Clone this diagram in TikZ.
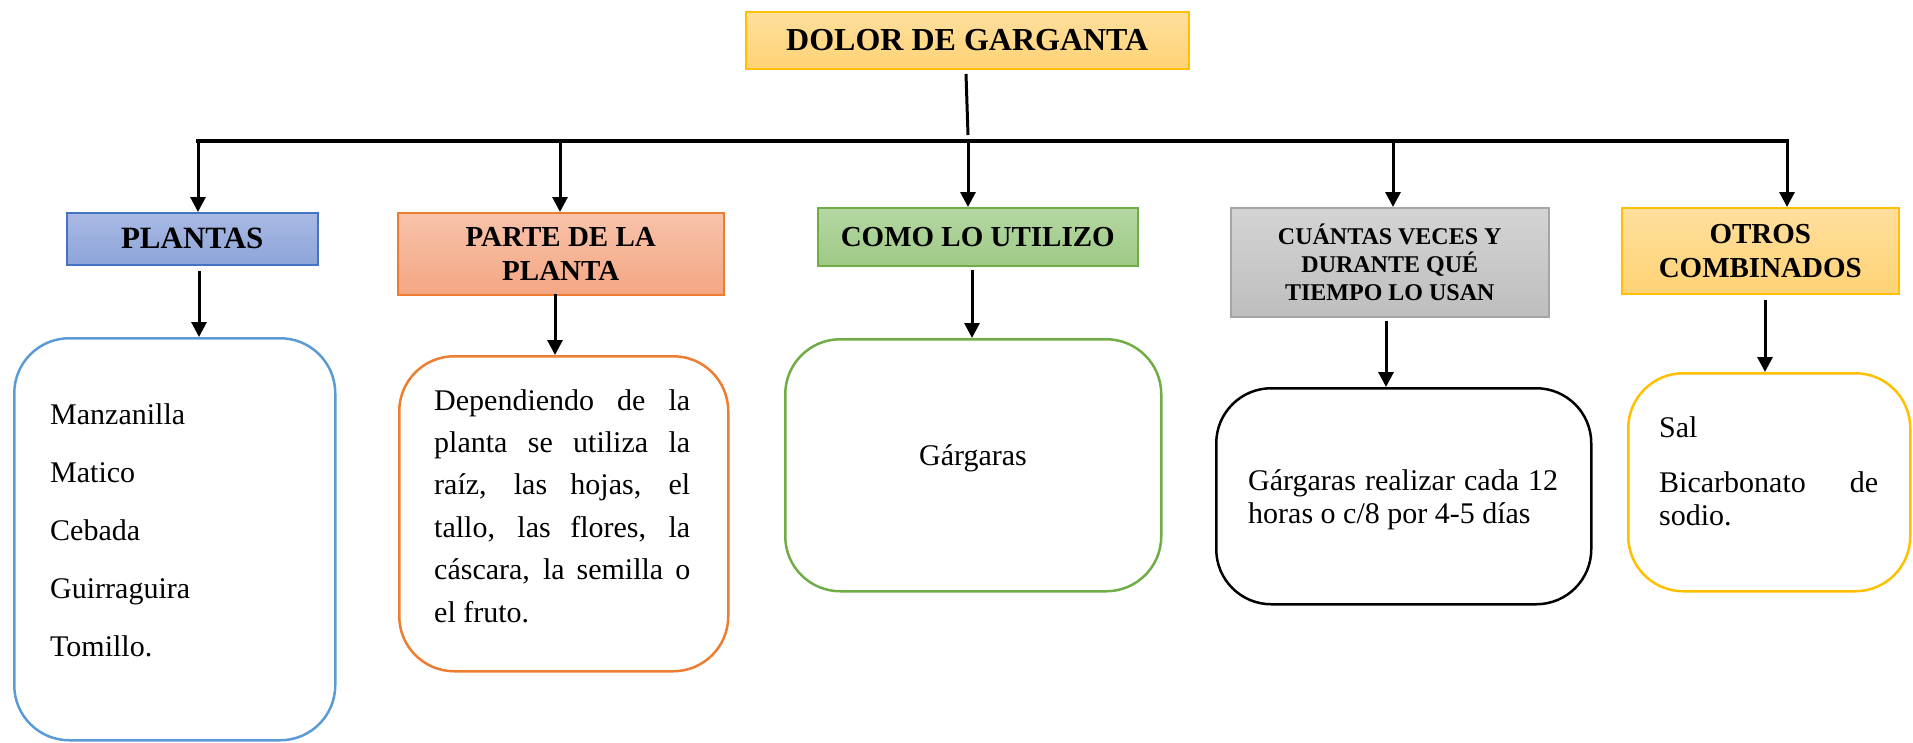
\documentclass[tikz,border=0pt]{standalone}
\usepackage{fontspec}
\setmainfont{Liberation Serif}
\usetikzlibrary{arrows.meta}
\definecolor{goldT}{HTML}{FFDF9E}
\definecolor{goldB}{HTML}{FFD375}
\definecolor{goldL}{HTML}{FFC000}
\definecolor{blueT}{HTML}{A9B9E3}
\definecolor{blueB}{HTML}{8DA5DA}
\definecolor{blueL}{HTML}{4472C4}
\definecolor{orT}{HTML}{F8C3AA}
\definecolor{orB}{HTML}{F4A683}
\definecolor{orL}{HTML}{ED7D31}
\definecolor{grT}{HTML}{B5D7A3}
\definecolor{grB}{HTML}{9ECA86}
\definecolor{grL}{HTML}{70AD47}
\definecolor{gyT}{HTML}{D4D4D4}
\definecolor{gyB}{HTML}{BEBEBE}
\definecolor{gyL}{HTML}{A5A5A5}
\definecolor{listBlue}{HTML}{5B9BD5}
\newcommand{\jl}[2]{\makebox[#1][s]{#2}\par}
\begin{document}
\begin{tikzpicture}[x=1pt,y=-1pt,
  hdr/.style={anchor=north west, inner sep=0pt, line width=1.5pt, align=center},
  rbox/.style={anchor=north west, inner sep=0pt, rounded corners=55pt, line width=2.5pt},
  txt/.style={anchor=base west, inner sep=0pt},
  arr/.style={line width=3pt, -{Triangle[width=15pt,length=15pt]}},
  barline/.style={line width=4pt, line cap=rect}]
\useasboundingbox (0,0) rectangle (1913,742);

% header nodes
\node[hdr, draw=goldL, top color=goldT, bottom color=goldB, minimum width=443pt, minimum height=57pt,
  font=\bfseries\fontsize{32}{38}\selectfont] (title) at (745,11) {DOLOR DE GARGANTA};
\node[hdr, draw=blueL, top color=blueT, bottom color=blueB, minimum width=251pt, minimum height=52pt,
  font=\bfseries\fontsize{31}{36}\selectfont] (plantas) at (66,212) {PLANTAS};
\node[hdr, draw=orL, top color=orT, bottom color=orB, minimum width=326pt, minimum height=82pt,
  font=\bfseries\fontsize{29}{34}\selectfont] (parte) at (397,212) {PARTE DE LA\\PLANTA};
\node[hdr, draw=grL, top color=grT, bottom color=grB, minimum width=320pt, minimum height=58pt,
  font=\bfseries\fontsize{29}{34}\selectfont] (como) at (817,207) {COMO LO UTILIZO};
\node[hdr, draw=gyL, top color=gyT, bottom color=gyB, minimum width=318pt, minimum height=109pt,
  font=\bfseries\fontsize{24}{28}\selectfont] (cuantas) at (1230,207) {CUÁNTAS VECES Y\\DURANTE QUÉ\\TIEMPO LO USAN};
\node[hdr, draw=goldL, top color=goldT, bottom color=goldB, minimum width=277pt, minimum height=86pt,
  font=\bfseries\fontsize{29}{34}\selectfont] (otros) at (1621,207) {OTROS\\COMBINADOS};

% rounded content boxes
\node[rbox, draw=listBlue, minimum width=321pt, minimum height=402pt] (list1) at (13,337) {};
\node[rbox, draw=orL, minimum width=329pt, minimum height=315pt] (list2) at (398,355) {};
\node[rbox, draw=grL, minimum width=376pt, minimum height=252pt] (list3) at (784,338) {};
\node[rbox, draw=black, minimum width=375pt, minimum height=216pt] (list4) at (1215,387) {};
\node[rbox, draw=goldL, minimum width=282pt, minimum height=218pt] (list5) at (1627,372) {};

% texts
\node[txt] (t1) at (50,424) {\vtop{\hsize=260pt\parindent=0pt\fontsize{30}{58}\selectfont
  Manzanilla\par Matico\par Cebada\par Guirraguira\par Tomillo.\par}};
\node[txt] (t2) at (434,410) {\vtop{\hsize=256pt\parindent=0pt\fontsize{30}{42.4}\selectfont
  \jl{256pt}{Dependiendo de la}
  \jl{256pt}{planta se utiliza la}
  \jl{256pt}{raíz, las hojas, el}
  \jl{256pt}{tallo, las flores, la}
  \jl{256pt}{cáscara, la semilla o}
  el fruto.\par}};
\node[anchor=base, inner sep=0pt, font=\fontsize{30}{36}\selectfont] (t3) at (973,465) {Gárgaras};
\node[txt] (t4) at (1248,490) {\vtop{\hsize=310pt\parindent=0pt\fontsize{30}{33}\selectfont
  \jl{310pt}{Gárgaras realizar cada 12}
  horas o c/8 por 4-5 días\par}};
\node[txt] (t5) at (1659,437) {\vtop{\hsize=219pt\parindent=0pt\fontsize{30}{33}\selectfont
  Sal\par\vskip22pt
  \jl{219pt}{Bicarbonato de}
  sodio.\par}};

% connectors
\coordinate (s1) at (966,74);
\coordinate (s2) at (968,135);
\draw[line width=3pt] (s1) -- (s2);

\coordinate (b1) at (198,141);
\coordinate (b2) at (560,141);
\coordinate (b3) at (968,141);
\coordinate (b4) at (1393,141);
\coordinate (b5) at (1787,141);
\draw[barline] (b1) -- (b5);
\draw[arr] (b1) -- (b1 |- plantas.north);
\draw[arr] (b2) -- (b2 |- parte.north);
\draw[arr] (b3) -- (b3 |- como.north);
\draw[arr] (b4) -- (b4 |- cuantas.north);
\draw[arr] (b5) -- (b5 |- otros.north);

\coordinate (d1) at (199,271);
\coordinate (d2) at (555,294);
\coordinate (d3) at (972,270);
\coordinate (d4) at (1386,321);
\coordinate (d5) at (1765,300);
\draw[arr] (d1) -- (d1 |- list1.north);
\draw[arr] (d2) -- (d2 |- list2.north);
\draw[arr] (d3) -- (d3 |- list3.north);
\draw[arr] (d4) -- (d4 |- list4.north);
\draw[arr] (d5) -- (d5 |- list5.north);
\end{tikzpicture}
\end{document}
